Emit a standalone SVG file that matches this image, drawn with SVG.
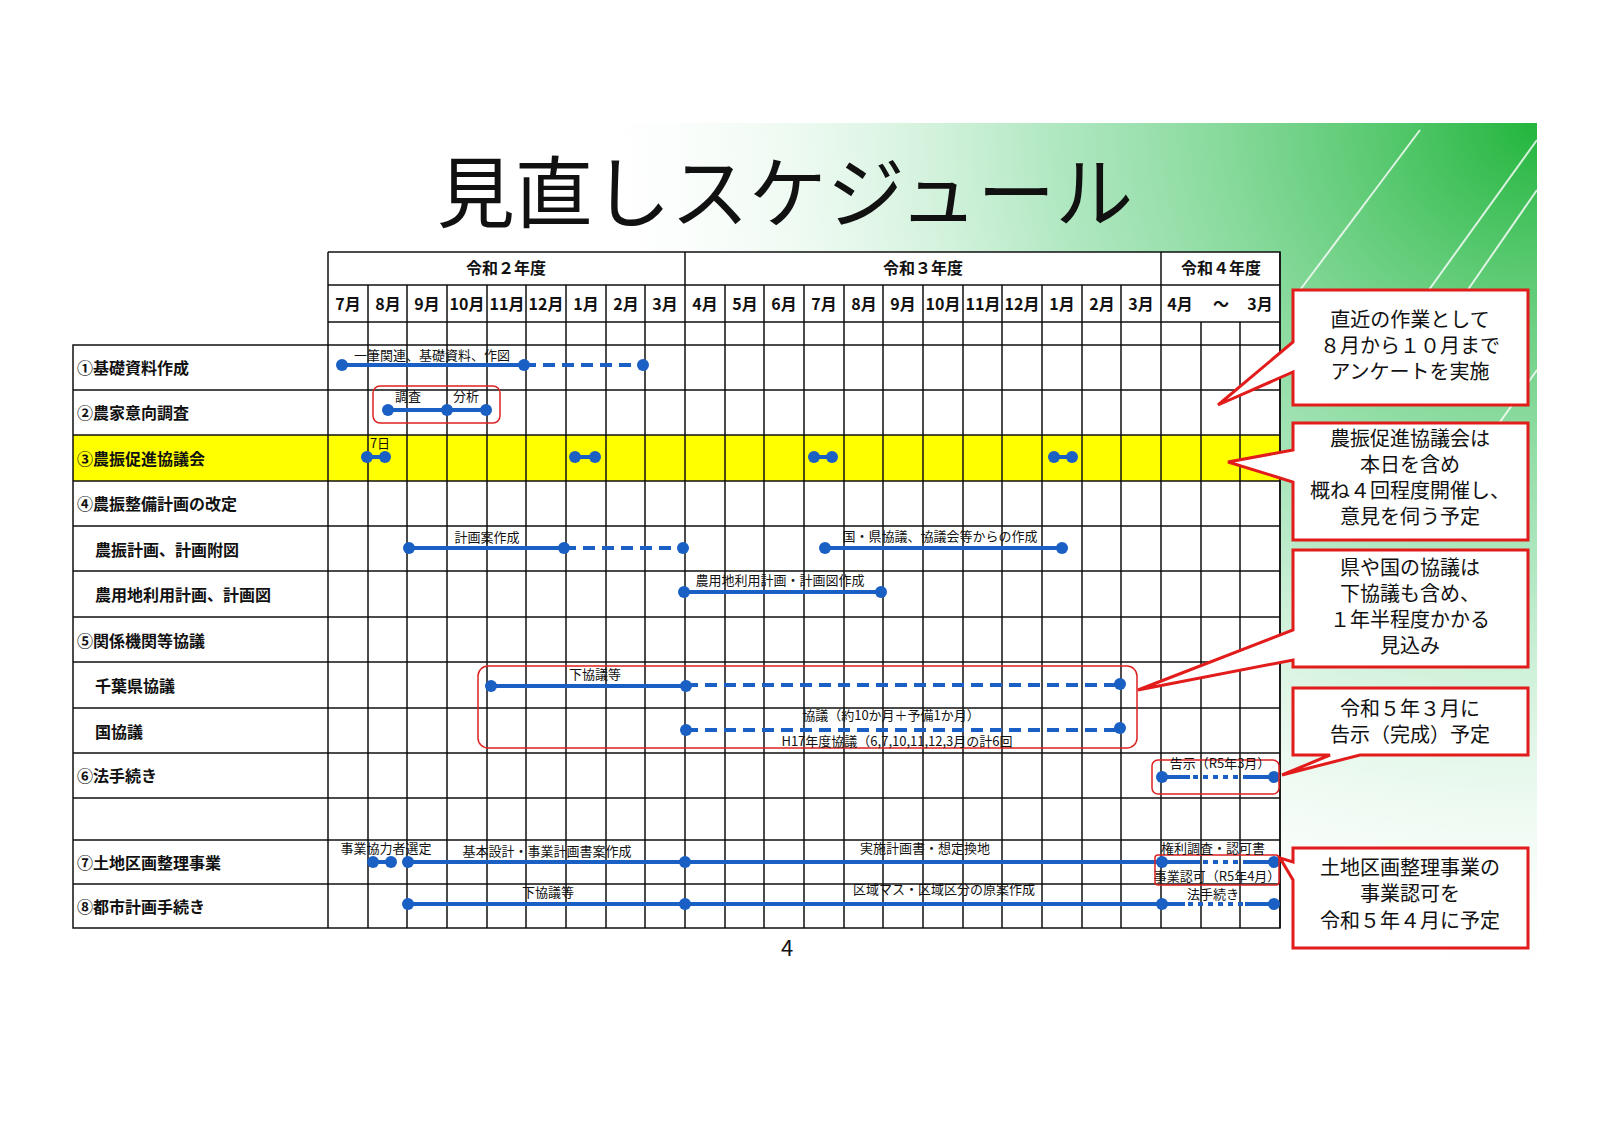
<svg xmlns="http://www.w3.org/2000/svg" width="1605" height="1135" viewBox="0 0 1605 1135">
<defs>
<radialGradient id="bg2" cx="1" cy="0" r="1">
<stop offset="0" stop-color="#22b53c"/>
<stop offset="0.5" stop-color="#7ed99a" stop-opacity="0.6"/>
<stop offset="1" stop-color="#ffffff" stop-opacity="0"/>
</radialGradient>
</defs>
<style>
text{font-family:"Noto Sans CJK JP","Liberation Sans",sans-serif;fill:#111}
.hd{font-size:16px;font-weight:bold;text-anchor:middle}
.lb{font-size:16px;font-weight:bold}
.sm{font-size:13px;text-anchor:middle}
.g{stroke:#111;stroke-width:1.5;fill:none}
.bar{stroke:#1a5fc4;stroke-width:4;fill:none}
.dash{stroke:#1a5fc4;stroke-width:4;fill:none;stroke-dasharray:12 7}
.dot{stroke:#1a5fc4;stroke-width:4;fill:none;stroke-dasharray:5 5}
.n{fill:#1a5fc4}
.rb{fill:none;stroke:#d22;stroke-width:1.5}
.co{fill:#fff;stroke:#e21b1b;stroke-width:3}
.ct{font-size:20px;text-anchor:middle}
</style>
<rect width="1605" height="1135" fill="#fff"/>
<rect x="560" y="123" width="977" height="900" fill="url(#bg2)"/>
<g stroke="#fff" stroke-width="2" opacity="0.8">
<line x1="1400" y1="330" x2="1537" y2="140"/><line x1="1440" y1="330" x2="1537" y2="190"/>
<line x1="1300" y1="290" x2="1420" y2="130"/><line x1="1480" y1="450" x2="1537" y2="370"/>
</g>
<text x="785" y="222" font-size="78" text-anchor="middle" style="font-weight:400">見直しスケジュール</text>

<g id="grid">
<rect x="328" y="252" width="952" height="676" fill="#fff"/>
<rect x="73" y="435" width="1207" height="46" fill="#ffff00"/>
<path class="g" d="M328 252H1280V928H73V345H1280M328 285H1280M328 322H1280M73 390H1280M73 435H1280M73 481H1280M73 526H1280M73 571H1280M73 617H1280M73 662H1280M73 708H1280M73 753H1280M73 798H1280M73 840H1280M73 884H1280"/>
<path class="g" d="M328 252V928M685 252V928M1161 252V928M1280 252V928M368 285V928M407 285V928M447 285V928M487 285V928M526 285V928M566 285V928M606 285V928M645 285V928M725 285V928M764 285V928M804 285V928M844 285V928M883 285V928M923 285V928M963 285V928M1002 285V928M1042 285V928M1082 285V928M1121 285V928M1201 322V928M1240 322V928"/>
</g>
<g id="header">
<text class="hd" x="506" y="274">令和２年度</text>
<text class="hd" x="923" y="274">令和３年度</text>
<text class="hd" x="1221" y="274">令和４年度</text>
<text class="hd" x="348" y="310">7月</text><text class="hd" x="388" y="310">8月</text><text class="hd" x="427" y="310">9月</text><text class="hd" x="467" y="310">10月</text><text class="hd" x="507" y="310">11月</text><text class="hd" x="546" y="310">12月</text><text class="hd" x="586" y="310">1月</text><text class="hd" x="626" y="310">2月</text><text class="hd" x="665" y="310">3月</text>
<text class="hd" x="705" y="310">4月</text><text class="hd" x="745" y="310">5月</text><text class="hd" x="784" y="310">6月</text><text class="hd" x="824" y="310">7月</text><text class="hd" x="864" y="310">8月</text><text class="hd" x="903" y="310">9月</text><text class="hd" x="943" y="310">10月</text><text class="hd" x="983" y="310">11月</text><text class="hd" x="1022" y="310">12月</text><text class="hd" x="1062" y="310">1月</text><text class="hd" x="1102" y="310">2月</text><text class="hd" x="1141" y="310">3月</text>
<text class="hd" x="1180" y="310">4月</text><text class="hd" x="1221" y="310">～</text><text class="hd" x="1260" y="310">3月</text>
</g>
<g id="labels">
<text class="lb" x="77" y="374">①基礎資料作成</text>
<text class="lb" x="77" y="419">②農家意向調査</text>
<text class="lb" x="77" y="465">③農振促進協議会</text>
<text class="lb" x="77" y="510">④農振整備計画の改定</text>
<text class="lb" x="95" y="556">農振計画、計画附図</text>
<text class="lb" x="95" y="601">農用地利用計画、計画図</text>
<text class="lb" x="77" y="647">⑤関係機関等協議</text>
<text class="lb" x="95" y="692">千葉県協議</text>
<text class="lb" x="95" y="738">国協議</text>
<text class="lb" x="77" y="782">⑥法手続き</text>
<text class="lb" x="77" y="869">⑦土地区画整理事業</text>
<text class="lb" x="77" y="913">⑧都市計画手続き</text>
</g>
<g id="connectors">
<path class="bar" d="M342 365H524M388 410H486M409 548H564M825 548H1062M684 592H881M491 686H686M408 862H1162M408 904H1162"/>
<path class="dash" d="M524 365H643M564 548H683M686 685H1120M686 730H1120"/>
<path class="bar" d="M367 457H385M575 457H595M814 457H832M1054 457H1072M373 862H391M1162 777H1190M1245 777H1274M1162 862H1200M1245 862H1274M1162 904H1185M1245 904H1274"/>
<path class="dot" d="M1193 777H1245M1203 862H1245M1188 904H1245"/>
<g class="n">
<circle cx="342" cy="365" r="6"/><circle cx="524" cy="365" r="6"/><circle cx="643" cy="365" r="6"/>
<circle cx="388" cy="410" r="6"/><circle cx="447" cy="410" r="6"/><circle cx="486" cy="410" r="6"/>
<circle cx="367" cy="457" r="6"/><circle cx="385" cy="457" r="6"/><circle cx="575" cy="457" r="6"/><circle cx="595" cy="457" r="6"/><circle cx="814" cy="457" r="6"/><circle cx="832" cy="457" r="6"/><circle cx="1054" cy="457" r="6"/><circle cx="1072" cy="457" r="6"/>
<circle cx="409" cy="548" r="6"/><circle cx="564" cy="548" r="6"/><circle cx="683" cy="548" r="6"/><circle cx="825" cy="548" r="6"/><circle cx="1062" cy="548" r="6"/>
<circle cx="684" cy="592" r="6"/><circle cx="881" cy="592" r="6"/>
<circle cx="491" cy="686" r="6"/><circle cx="686" cy="686" r="6"/><circle cx="1120" cy="684" r="6"/>
<circle cx="686" cy="730" r="6"/><circle cx="1120" cy="728" r="6"/>
<circle cx="1162" cy="777" r="6"/><circle cx="1274" cy="777" r="6"/>
<circle cx="373" cy="862" r="6"/><circle cx="391" cy="862" r="6"/><circle cx="408" cy="862" r="6"/><circle cx="685" cy="862" r="6"/><circle cx="1162" cy="862" r="6"/><circle cx="1274" cy="862" r="6"/>
<circle cx="408" cy="904" r="6"/><circle cx="685" cy="904" r="6"/><circle cx="1162" cy="904" r="6"/><circle cx="1274" cy="904" r="6"/>
</g>
<rect class="rb" x="373" y="386" width="127" height="37" rx="7"/>
<rect class="rb" x="478" y="666" width="659" height="82" rx="10"/>
<rect class="rb" x="1152" y="760" width="127" height="34" rx="6"/>
<rect class="rb" x="1155" y="855" width="124" height="30" rx="3"/>
</g>
<g id="barlabels">
<text class="sm" x="432" y="360">一筆関連、基礎資料、作図</text>
<text class="sm" x="408" y="401">調査</text><text class="sm" x="466" y="401">分析</text>
<text class="sm" x="380" y="448">7日</text>
<text class="sm" x="487" y="542">計画案作成</text>
<text class="sm" x="940" y="541">国・県協議、協議会等からの作成</text>
<text class="sm" x="780" y="585">農用地利用計画・計画図作成</text>
<text class="sm" x="595" y="679">下協議等</text>
<text class="sm" x="891" y="720">協議（約10か月＋予備1か月）</text>
<text class="sm" x="897" y="746">H17年度協議（6,7,10,11,12,3月の計6回</text>
<text class="sm" x="1220" y="768">告示（R5年3月）</text>
<text class="sm" x="386" y="853">事業協力者選定</text>
<text class="sm" x="547" y="856">基本設計・事業計画書案作成</text>
<text class="sm" x="925" y="853">実施計画書・想定換地</text>
<text class="sm" x="1213" y="853">権利調査・認可書</text>
<text class="sm" x="1217" y="881">事業認可（R5年4月）</text>
<text class="sm" x="548" y="897">下協議等</text>
<text class="sm" x="944" y="894">区域マス・区域区分の原案作成</text>
<text class="sm" x="1213" y="899">法手続き</text>
</g>
<g id="callout1">
<path class="co" d="M1293 290H1528V405H1293V372L1218 405L1293 342Z"/>
<text class="ct" x="1410" y="327">直近の作業として</text><text class="ct" x="1410" y="353">８月から１０月まで</text><text class="ct" x="1410" y="379">アンケートを実施</text>
</g>
<g id="callout2">
<path class="co" d="M1293 423H1528V540H1293V482L1228 462L1293 450Z"/>
<text class="ct" x="1410" y="446">農振促進協議会は</text><text class="ct" x="1410" y="472">本日を含め</text><text class="ct" x="1410" y="498">概ね４回程度開催し、</text><text class="ct" x="1410" y="524">意見を伺う予定</text>
</g>
<g id="callout3">
<path class="co" d="M1293 550H1528V667H1293V660L1138 690L1293 630Z"/>
<text class="ct" x="1410" y="575">県や国の協議は</text><text class="ct" x="1410" y="601">下協議も含め、</text><text class="ct" x="1410" y="627">１年半程度かかる</text><text class="ct" x="1410" y="653">見込み</text>
</g>
<g id="callout4">
<path class="co" d="M1293 688H1528V755H1360L1282 775L1330 755H1293Z"/>
<text class="ct" x="1410" y="716">令和５年３月に</text><text class="ct" x="1410" y="742">告示（完成）予定</text>
</g>
<g id="callout5">
<path class="co" d="M1293 848H1528V948H1293V880L1280 858L1293 862Z"/>
<text class="ct" x="1410" y="875">土地区画整理事業の</text><text class="ct" x="1410" y="901">事業認可を</text><text class="ct" x="1410" y="928">令和５年４月に予定</text>
</g>
<text x="787" y="956" font-size="22" text-anchor="middle">4</text>
</svg>
